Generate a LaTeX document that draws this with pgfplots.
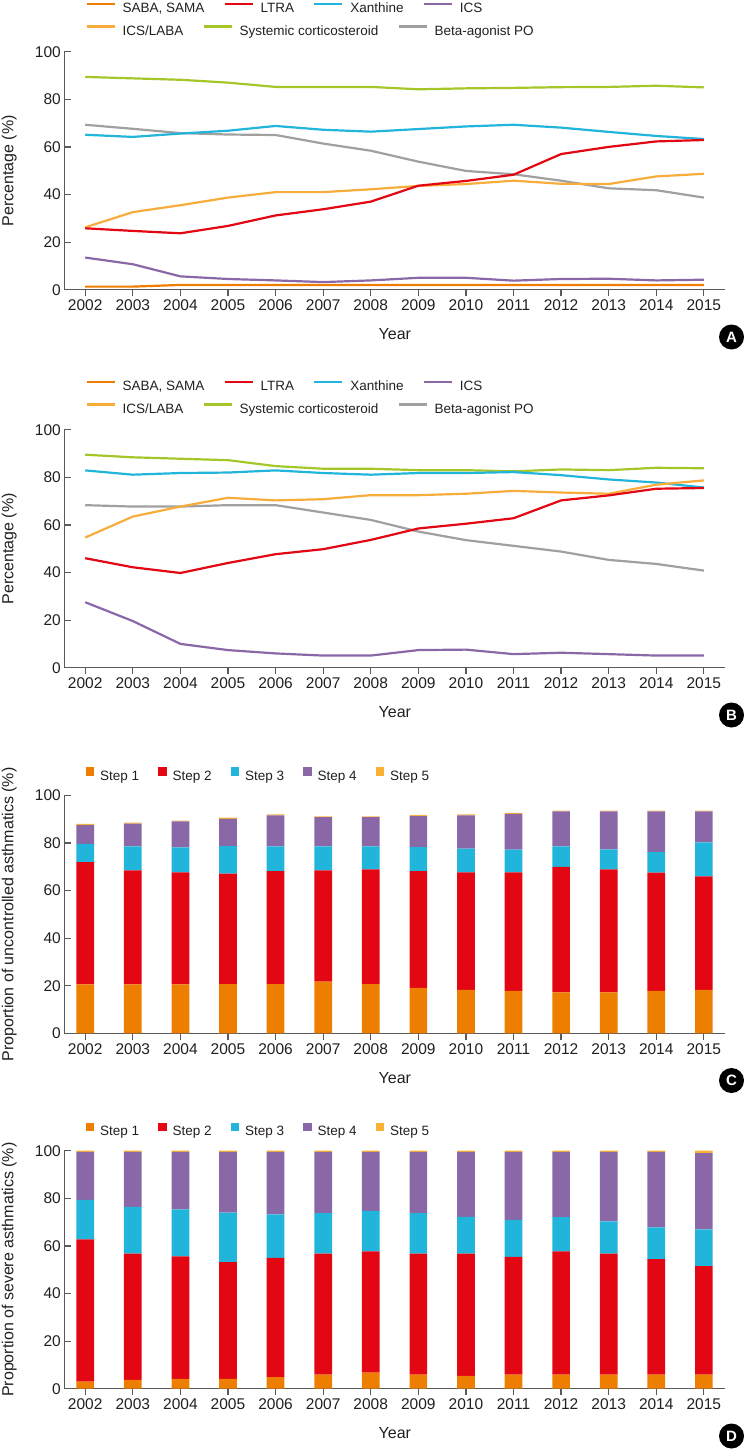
\documentclass[border=0pt]{standalone}
\usepackage{fontspec}
\setmainfont{Liberation Sans}
\usepackage{pgfplots}
\pgfplotsset{compat=1.18}

\definecolor{cSaba}{RGB}{238,126,0}
\definecolor{cLtra}{RGB}{227,6,19}
\definecolor{cXan}{RGB}{34,181,220}
\definecolor{cIcs}{RGB}{138,104,168}
\definecolor{cIcsLaba}{RGB}{246,173,60}
\definecolor{cSys}{RGB}{165,198,40}
\definecolor{cBeta}{RGB}{160,160,160}
\definecolor{cStepV}{RGB}{249,178,51}
\definecolor{axisgray}{RGB}{90,90,90}
\definecolor{txt}{RGB}{35,31,32}

\newcommand\tickfont{\fontsize{15.5}{18}\selectfont}
\newcommand\labfont{\fontsize{16}{19}\selectfont}
\newcommand\legfont{\fontsize{13.5}{16}\selectfont}

\pgfplotsset{
  panel/.style={
    scale only axis, width=661pt, height=238pt, anchor=south west,
    xmin=2001.56, xmax=2015.45, ymin=0, ymax=100, enlargelimits=false,
    axis lines=left,
    every outer x axis line/.append style={-},
    every outer y axis line/.append style={-},
    axis line style={draw=axisgray, line width=1.2pt},
    xtick={2002,...,2015}, ytick={0,20,...,100},
    xtick align=outside, ytick align=inside,
    major tick length=6.5pt,
    tick style={draw=axisgray, line width=1.2pt},
    tick label style={font=\tickfont, text=txt, /pgf/number format/assume math mode=true},
    x tick label style={/pgf/number format/1000 sep={}},
    xlabel={Year},
    every axis x label/.style={at={(axis description cs:0.5,-0.186)}, anchor=center, font=\labfont, text=txt},
    every axis y label/.style={at={(axis description cs:-0.0832,0.5)}, rotate=90, anchor=center, font=\labfont, text=txt},
  },
  leg/.style={
    legend style={draw=none, fill=none, inner sep=0pt, outer sep=0pt,
      at={(axis description cs:0,1)}, anchor=west, xshift=21.2pt, yshift=#1,
      font=\legfont, text=txt, legend columns=-1,
      nodes={inner sep=0pt},
      /tikz/every odd column/.append style={column sep=7pt},
      /tikz/every even column/.append style={column sep=19pt}},
    legend image code/.code={\draw[##1, line width=2.2pt] (0pt,4.6pt) -- (28pt,4.6pt);},
  },
  sqleg/.style={
    legend style={draw=none, fill=none, inner sep=0pt, outer sep=0pt,
      at={(axis description cs:0,1)}, anchor=west, xshift=21.2pt, yshift=20.7pt,
      font=\legfont, text=txt, legend columns=-1,
      nodes={inner sep=0pt},
      /tikz/every odd column/.append style={column sep=6pt},
      /tikz/every even column/.append style={column sep=19pt}},
  },
  sq/.style={legend image code/.code={\fill[##1, draw=none] (0pt,0.6pt) rectangle (8.5pt,9.1pt);}},
  ln/.style={line width=2.2pt, line join=round, forget plot},
}

% Panel C data: year, step1..step5 increments
\pgfplotstableread{
year s1 s2 s3 s4 s5
2002 20.6 51.3 7.7 7.9 0.5
2003 20.6 47.9 10.0 9.6 0.4
2004 20.6 47.0 10.5 10.9 0.4
2005 20.7 46.4 11.6 11.4 0.5
2006 20.7 47.4 10.4 13.1 0.4
2007 21.7 46.8 10.0 12.3 0.4
2008 20.7 48.2 9.6 12.3 0.4
2009 19.1 49.0 10.1 13.1 0.4
2010 18.2 49.4 10.0 14.0 0.4
2011 17.8 49.8 9.6 15.0 0.4
2012 17.2 52.7 8.6 14.7 0.4
2013 17.2 51.7 8.4 15.9 0.4
2014 17.8 49.7 8.6 17.1 0.4
2015 18.2 47.7 14.3 13.0 0.4
}\dataC
\pgfplotstableread{
year s1 s2 s3 s4 s5
2002 3.0 59.7 16.6 20.2 0.5
2003 3.7 53.1 19.6 23.1 0.5
2004 4.1 51.5 19.8 24.1 0.5
2005 4.1 49.1 20.8 25.5 0.5
2006 4.9 50.1 18.3 26.2 0.5
2007 5.9 50.9 17.0 25.7 0.5
2008 6.8 50.9 17.0 24.8 0.5
2009 5.9 50.9 17.0 25.7 0.5
2010 5.4 51.4 15.4 27.3 0.5
2011 5.9 49.5 15.5 28.6 0.5
2012 5.9 51.8 14.4 27.4 0.5
2013 5.9 50.9 13.5 29.2 0.5
2014 5.9 48.5 13.4 31.7 0.5
2015 5.9 45.6 15.5 32.0 1.0
}\dataD

\begin{document}
\begin{tikzpicture}[x=1pt,y=1pt]
\useasboundingbox (0,0) rectangle (745,-1450);

% ---------------- Panel A ----------------
\begin{axis}[panel, leg=43.4pt, at={(64.3pt,-289.7pt)}, ylabel={Percentage (\%)}]
\addlegendimage{cSaba}\addlegendentry{SABA, SAMA}
\addlegendimage{cLtra}\addlegendentry{LTRA}
\addlegendimage{cXan}\addlegendentry{Xanthine}
\addlegendimage{cIcs}\addlegendentry{ICS}
\addplot[ln, cBeta] coordinates {(2002,69.3)(2003,67.6)(2004,65.8)(2005,65.2)(2006,65.0)(2007,61.4)(2008,58.4)(2009,53.8)(2010,49.9)(2011,48.5)(2012,45.8)(2013,42.6)(2014,41.8)(2015,38.7)};
\addplot[ln, cSys] coordinates {(2002,89.4)(2003,88.8)(2004,88.2)(2005,87.0)(2006,85.2)(2007,85.2)(2008,85.2)(2009,84.2)(2010,84.6)(2011,84.8)(2012,85.1)(2013,85.2)(2014,85.7)(2015,85.0)};
\addplot[ln, cIcsLaba] coordinates {(2002,26.2)(2003,32.6)(2004,35.5)(2005,38.7)(2006,41.0)(2007,41.0)(2008,42.2)(2009,43.6)(2010,44.4)(2011,45.8)(2012,44.5)(2013,44.4)(2014,47.6)(2015,48.7)};
\addplot[ln, cXan] coordinates {(2002,65.1)(2003,64.2)(2004,65.6)(2005,66.8)(2006,68.8)(2007,67.2)(2008,66.4)(2009,67.5)(2010,68.6)(2011,69.3)(2012,68.1)(2013,66.3)(2014,64.6)(2015,63.3)};
\addplot[ln, cIcs] coordinates {(2002,13.5)(2003,10.7)(2004,5.6)(2005,4.5)(2006,3.9)(2007,3.2)(2008,3.9)(2009,5.0)(2010,5.0)(2011,3.8)(2012,4.5)(2013,4.6)(2014,3.9)(2015,4.2)};
\addplot[ln, cLtra] coordinates {(2002,25.8)(2003,24.7)(2004,23.7)(2005,26.8)(2006,31.2)(2007,33.8)(2008,37.0)(2009,43.7)(2010,45.7)(2011,48.3)(2012,57.0)(2013,60.0)(2014,62.3)(2015,62.9)};
\addplot[ln, cSaba] coordinates {(2002,1.3)(2003,1.3)(2004,2.0)(2005,2.0)(2006,2.0)(2007,2.0)(2008,2.0)(2009,2.0)(2010,2.0)(2011,2.0)(2012,2.0)(2013,2.0)(2014,2.0)(2015,2.0)};
\end{axis}
\begin{axis}[panel, leg=20.7pt, at={(64.3pt,-289.7pt)}, hide axis]
\addlegendimage{cIcsLaba}\addlegendentry{ICS/LABA}
\addlegendimage{cSys}\addlegendentry{Systemic corticosteroid}
\addlegendimage{cBeta}\addlegendentry{Beta-agonist PO}
\end{axis}

% ---------------- Panel B ----------------
\begin{axis}[panel, leg=43.4pt, at={(64.3pt,-667.7pt)}, ylabel={Percentage (\%)}]
\addlegendimage{cSaba}\addlegendentry{SABA, SAMA}
\addlegendimage{cLtra}\addlegendentry{LTRA}
\addlegendimage{cXan}\addlegendentry{Xanthine}
\addlegendimage{cIcs}\addlegendentry{ICS}
\addplot[ln, cBeta] coordinates {(2002,68.3)(2003,67.7)(2004,67.7)(2005,68.3)(2006,68.3)(2007,65.2)(2008,62.1)(2009,57.2)(2010,53.6)(2011,51.2)(2012,48.8)(2013,45.3)(2014,43.6)(2015,40.8)};
\addplot[ln, cSys] coordinates {(2002,89.5)(2003,88.4)(2004,87.8)(2005,87.2)(2006,84.7)(2007,83.6)(2008,83.6)(2009,83.0)(2010,83.0)(2011,82.5)(2012,83.3)(2013,83.0)(2014,84.0)(2015,83.8)};
\addplot[ln, cXan] coordinates {(2002,82.9)(2003,81.1)(2004,81.8)(2005,82.0)(2006,82.9)(2007,81.8)(2008,81.1)(2009,81.8)(2010,81.8)(2011,82.2)(2012,80.9)(2013,79.1)(2014,77.8)(2015,75.7)};
\addplot[ln, cIcsLaba] coordinates {(2002,54.7)(2003,63.5)(2004,67.7)(2005,71.4)(2006,70.3)(2007,70.8)(2008,72.5)(2009,72.5)(2010,73.1)(2011,74.3)(2012,73.6)(2013,73.1)(2014,76.9)(2015,78.7)};
\addplot[ln, cIcs] coordinates {(2002,27.5)(2003,19.6)(2004,10.0)(2005,7.4)(2006,6.0)(2007,5.1)(2008,5.1)(2009,7.4)(2010,7.6)(2011,5.7)(2012,6.3)(2013,5.7)(2014,5.1)(2015,5.1)};
\addplot[ln, cLtra] coordinates {(2002,46.0)(2003,42.2)(2004,39.8)(2005,44.0)(2006,47.7)(2007,49.8)(2008,53.7)(2009,58.5)(2010,60.5)(2011,62.8)(2012,70.3)(2013,72.4)(2014,75.2)(2015,75.5)};
\end{axis}
\begin{axis}[panel, leg=20.7pt, at={(64.3pt,-667.7pt)}, hide axis]
\addlegendimage{cIcsLaba}\addlegendentry{ICS/LABA}
\addlegendimage{cSys}\addlegendentry{Systemic corticosteroid}
\addlegendimage{cBeta}\addlegendentry{Beta-agonist PO}
\end{axis}

% ---------------- Panel C ----------------
\begin{axis}[panel, sqleg, at={(64.3pt,-1033.3pt)}, ybar stacked, bar width=17.7pt,
  ylabel={Proportion of uncontrolled asthmatics (\%)}]
\addplot[fill=cSaba, draw=none, sq] table[x=year, y=s1] {\dataC};
\addlegendentry{Step 1}
\addplot[fill=cLtra, draw=none, sq] table[x=year, y=s2] {\dataC};
\addlegendentry{Step 2}
\addplot[fill=cXan, draw=none, sq] table[x=year, y=s3] {\dataC};
\addlegendentry{Step 3}
\addplot[fill=cIcs, draw=none, sq] table[x=year, y=s4] {\dataC};
\addlegendentry{Step 4}
\addplot[fill=cStepV, draw=none, sq] table[x=year, y=s5] {\dataC};
\addlegendentry{Step 5}
\end{axis}

% ---------------- Panel D ----------------
\begin{axis}[panel, sqleg, at={(64.3pt,-1388.7pt)}, ybar stacked, bar width=17.7pt,
  ylabel={Proportion of severe asthmatics (\%)}]
\addplot[fill=cSaba, draw=none, sq] table[x=year, y=s1] {\dataD};
\addlegendentry{Step 1}
\addplot[fill=cLtra, draw=none, sq] table[x=year, y=s2] {\dataD};
\addlegendentry{Step 2}
\addplot[fill=cXan, draw=none, sq] table[x=year, y=s3] {\dataD};
\addlegendentry{Step 3}
\addplot[fill=cIcs, draw=none, sq] table[x=year, y=s4] {\dataD};
\addlegendentry{Step 4}
\addplot[fill=cStepV, draw=none, sq] table[x=year, y=s5] {\dataD};
\addlegendentry{Step 5}
\end{axis}

% panel letters
\foreach \l/\yy in {A/-337, B/-715, C/-1080.5, D/-1436}{
  \node[circle, fill=black, text=white, inner sep=0pt, minimum size=25pt,
        font=\bfseries\fontsize{15}{15}\selectfont] at (731.5,\yy) {\l};
}
\end{tikzpicture}
\end{document}
